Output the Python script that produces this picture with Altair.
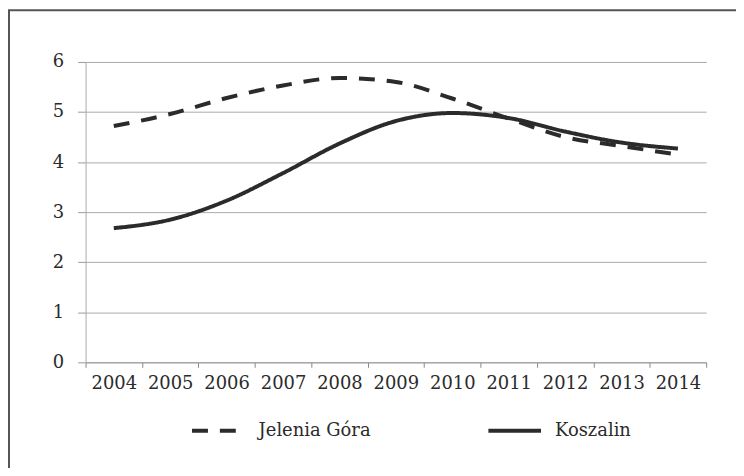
import altair as alt
import pandas as pd

years = ["2004", "2005", "2006", "2007", "2008", "2009", "2010", "2011", "2012", "2013", "2014"]
jelenia = [4.72, 4.96, 5.28, 5.53, 5.68, 5.60, 5.27, 4.87, 4.50, 4.32, 4.15]
koszalin = [2.68, 2.85, 3.23, 3.78, 4.37, 4.82, 4.98, 4.88, 4.61, 4.39, 4.27]
series = ["Jelenia Góra", "Koszalin"]

rows = []
for y, v in zip(years, jelenia):
    rows.append({"rok": y, "wartosc": v, "miasto": series[0]})
for y, v in zip(years, koszalin):
    rows.append({"rok": y, "wartosc": v, "miasto": series[1]})
df = pd.DataFrame(rows)

FONT = "DejaVu Serif"
INK = "#2b2b2b"

lines = alt.Chart(df).mark_line(
    interpolate="monotone", strokeWidth=4, color=INK
).encode(
    x=alt.X("rok:O", sort=years,
            scale=alt.Scale(paddingInner=0, paddingOuter=0),
            axis=alt.Axis(title=None, labelAngle=0, tickBand="extent",
                          labelFont=FONT, labelFontSize=18, labelColor=INK,
                          labelPadding=7, tickSize=5, tickColor="#888",
                          domainColor="#999", grid=False)),
    y=alt.Y("wartosc:Q",
            scale=alt.Scale(domain=[0, 6], nice=False),
            axis=alt.Axis(title=None, values=[0, 1, 2, 3, 4, 5, 6],
                          labelFont=FONT, labelFontSize=18, labelColor=INK,
                          labelPadding=14, tickSize=8, tickColor="#999",
                          domainColor="#aaa", gridColor="#aaa", gridWidth=1)),
    strokeDash=alt.StrokeDash("miasto:N", sort=series,
        scale=alt.Scale(domain=series, range=[[16, 12], [1, 0]]),
        legend=alt.Legend(title=None, orient="none", direction="horizontal",
                          legendX=105, legendY=342,
                          symbolType="stroke", symbolSize=2800,
                          symbolStrokeWidth=4, symbolStrokeColor=INK,
                          labelFont=FONT, labelFontSize=18, labelColor=INK,
                          labelOffset=12, columnPadding=110, labelLimit=300)),
)

frame = alt.Chart(pd.DataFrame({"f": [0]})).mark_rect(
    fillOpacity=0, stroke="#555", strokeWidth=2
).encode(
    x=alt.value(-77), x2=alt.value(720), y=alt.value(-52), y2=alt.value(520)
)

chart = alt.layer(frame, lines).properties(
    width=624, height=302,
    padding={"left": 78, "top": 53, "right": 30, "bottom": 105},
    autosize=alt.AutoSizeParams(type="none"),
    background="white",
).configure_view(stroke=None)

chart.save("out.html", embed_options={"renderer": "svg", "actions": False})
